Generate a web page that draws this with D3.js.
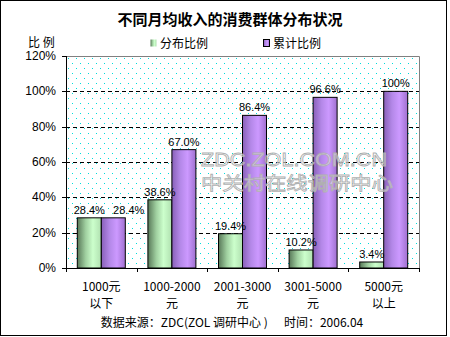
<!DOCTYPE html>
<html><head><meta charset="utf-8">
<script src="https://cdn.jsdelivr.net/npm/d3@7"></script>
<style>body{margin:0;background:#fff}svg{display:block}</style>
</head><body>
<script>
const categories = [["1000元","以下"],["1000-2000","元"],["2001-3000","元"],["3001-5000","元"],["5000元","以上"]];
const seriesNames = ["分布比例","累计比例"];
const share = [28.4, 38.6, 19.4, 10.2, 3.4];
const cumulative = [28.4, 67.0, 86.4, 96.6, 100];
const shareLabels = ["28.4%","38.6%","19.4%","10.2%","3.4%"];
const cumLabels = ["28.4%","67.0%","86.4%","96.6%","100%"];
const yTicks = [0,20,40,60,80,100,120];

const W=450,H=337;
const m={l:66,r:419,t:56,b:268};
const cjk = "'Noto Sans CJK SC', sans-serif";
const lat = "'Liberation Sans', Arial, sans-serif";

const svg=d3.select("body").append("svg").attr("width",W).attr("height",H);
const defs=svg.append("defs");
const pat=defs.append("pattern").attr("id","dots").attr("patternUnits","userSpaceOnUse")
  .attr("x",m.l).attr("y",m.t).attr("width",8).attr("height",10);
pat.append("rect").attr("x",2).attr("y",2).attr("width",1).attr("height",1).attr("fill","#00dcdc");
pat.append("rect").attr("x",6).attr("y",7).attr("width",1).attr("height",1).attr("fill","#00dcdc");

function grad(id,stops){
  const g=defs.append("linearGradient").attr("id",id).attr("x1","0").attr("x2","1").attr("y1","0").attr("y2","0");
  stops.forEach(s=>g.append("stop").attr("offset",s[0]).attr("stop-color",s[1]));
}
grad("gG",[[0,"#587858"],[0.35,"#a0d0a0"],[0.65,"#ccffcc"],[1,"#b0e0b0"]]);
grad("gP",[[0,"#8860b8"],[0.35,"#b488e8"],[0.65,"#cc99ff"],[1,"#a070d0"]]);

svg.append("rect").attr("x",0.5).attr("y",0.5).attr("width",446).attr("height",335)
  .attr("fill","#fff").attr("stroke","#000");

const x=d3.scaleBand().domain(d3.range(categories.length)).range([m.l,m.r]);
const y=d3.scaleLinear().domain([0,120]).range([m.b,m.t]);

svg.append("rect").attr("x",m.l).attr("y",m.t).attr("width",m.r-m.l).attr("height",m.b-m.t).attr("fill","url(#dots)");

// gridlines
svg.append("g").selectAll("line").data(yTicks.filter(d=>d>0&&d<120)).join("line")
  .attr("x1",m.l).attr("x2",m.r).attr("y1",d=>Math.round(y(d))+0.5).attr("y2",d=>Math.round(y(d))+0.5)
  .attr("stroke","#000").attr("stroke-dasharray","4,3");

// border grey top/right
svg.append("path").attr("d",`M${m.l},${m.t+0.5}H${m.r+0.5}V${m.b}`).attr("fill","none").attr("stroke","#808080");

const bw=24;
const g=svg.append("g");
share.forEach((v,i)=>{
  const cx=x(i)+x.bandwidth()/2;
  g.append("rect").attr("x",cx-bw).attr("y",y(v)).attr("width",bw).attr("height",y(0)-y(v))
    .attr("fill","url(#gG)").attr("stroke","#000").attr("stroke-width",1);
  g.append("rect").attr("x",cx).attr("y",y(cumulative[i])).attr("width",bw).attr("height",y(0)-y(cumulative[i]))
    .attr("fill","url(#gP)").attr("stroke","#000").attr("stroke-width",1);
});

// watermark (drawn over bars)
const wm=svg.append("g").attr("fill","#fff").attr("fill-opacity",0.45).attr("stroke","#b0b0b0").attr("stroke-width",0.8);
wm.append("text").attr("x",294).attr("y",166).attr("text-anchor","middle").attr("font-family",lat).attr("font-size",18)
  .attr("textLength",186).attr("lengthAdjust","spacingAndGlyphs").text("ZDC.ZOL.COM.CN");
wm.append("text").attr("x",297).attr("y",190).attr("text-anchor","middle").attr("font-size",18).attr("font-family",cjk)
  .attr("textLength",192).attr("lengthAdjust","spacingAndGlyphs").text("中关村在线调研中心");

// data labels
const lbl=svg.append("g").attr("font-family",lat).attr("font-size",11).attr("fill","#000").attr("text-anchor","middle");
share.forEach((v,i)=>{
  const cx=x(i)+x.bandwidth()/2;
  const a=lbl.append("text").attr("x",cx-bw/2).attr("y",y(v)-4).text(shareLabels[i]);
  const b=lbl.append("text").attr("x",cx+bw/2).attr("y",y(cumulative[i])-4).text(cumLabels[i]);
  if(Math.abs(y(v)-y(cumulative[i]))<12){
    const ba=a.node().getBBox(), bb=b.node().getBBox();
    const need=(ba.x+ba.width+8)-bb.x;
    if(need>0) b.attr("x",cx+bw/2+need);
  }
});

// axes
svg.append("line").attr("x1",m.l+0.5).attr("x2",m.l+0.5).attr("y1",m.t).attr("y2",m.b).attr("stroke","#000");
svg.append("line").attr("x1",m.l).attr("x2",m.r+1).attr("y1",m.b+0.5).attr("y2",m.b+0.5).attr("stroke","#000");
svg.append("g").selectAll("line").data(yTicks).join("line")
  .attr("x1",m.l-4).attr("x2",m.l).attr("y1",d=>Math.round(y(d))+0.5).attr("y2",d=>Math.round(y(d))+0.5).attr("stroke","#000");
svg.append("g").selectAll("text").data(yTicks).join("text")
  .attr("x",56).attr("y",d=>y(d)+4).attr("text-anchor","end").attr("font-family",lat).attr("font-size",12).text(d=>d+"%");
svg.append("g").selectAll("line").data(d3.range(categories.length+1)).join("line")
  .attr("x1",d=>Math.round(m.l+d*x.step())+0.5).attr("x2",d=>Math.round(m.l+d*x.step())+0.5)
  .attr("y1",m.b).attr("y2",m.b+4).attr("stroke","#000");
const xl=svg.append("g").attr("font-family",cjk).attr("font-size",12).attr("text-anchor","middle");
categories.forEach((c,i)=>{
  const cx=x(i)+x.bandwidth()/2;
  xl.append("text").attr("x",cx).attr("y",291).text(c[0]);
  xl.append("text").attr("x",cx).attr("y",308).text(c[1]);
});

// title
svg.append("text").attr("x",230).attr("y",25).attr("text-anchor","middle").attr("font-family",cjk)
  .attr("font-size",15).attr("font-weight","bold").text("不同月均收入的消费群体分布状况");
svg.append("text").attr("x",28).attr("y",47).attr("font-family",cjk).attr("font-size",12).text("比 例");
// legend
const leg=[{x:150,fill:"url(#gG)",t:seriesNames[0]},{x:263,fill:"url(#gP)",t:seriesNames[1]}];
leg.forEach(l=>{
  svg.append("rect").attr("x",l.x+0.5).attr("y",39.5).attr("width",6).attr("height",7).attr("fill",l.fill)
    .attr("stroke",l.x===263?"#000":"none");
  svg.append("text").attr("x",l.x+10).attr("y",48).attr("font-family",cjk).attr("font-size",12).text(l.t);
});
svg.append("text").attr("x",232).attr("y",327).attr("text-anchor","middle").attr("font-family",cjk).attr("font-size",12)
  .attr("xml:space","preserve").text("数据来源：ZDC(ZOL 调研中心 )      时间：2006.04");
</script>
</body></html>
